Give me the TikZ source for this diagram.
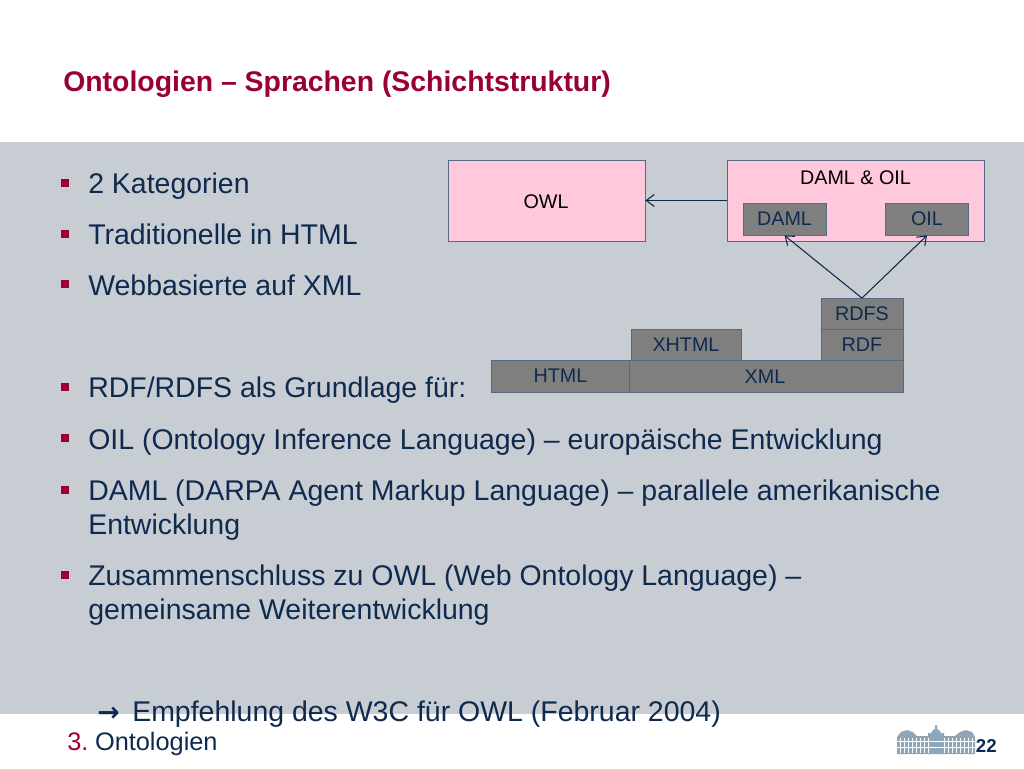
\documentclass[tikz,border=0pt]{standalone}
\usepackage{fontspec}
\setmainfont{Liberation Sans}
\newfontfamily\arrowfont{DejaVu Sans}
\usetikzlibrary{arrows.meta}
\definecolor{slidered}{HTML}{990033}
\definecolor{slidenavy}{HTML}{0F2A4F}
\definecolor{slidegrey}{HTML}{C8CDD4}
\definecolor{boxpink}{HTML}{FFC8DC}
\definecolor{boxgrey}{HTML}{7F7F7F}
\definecolor{logoblue}{HTML}{8FA5B8}
\tikzset{
  bodytext/.style={anchor=base west,inner sep=0pt,text=slidenavy,font=\fontsize{21.35pt}{25.5pt}\selectfont,align=left},
  bullet/.style={fill=slidered,draw=none,inner sep=0pt,minimum size=6pt},
  pinkbox/.style={draw=slidenavy!70,line width=.6pt,fill=boxpink,inner sep=0pt},
  greybox/.style={draw=slidenavy!70,line width=.6pt,fill=boxgrey,inner sep=0pt,text=slidenavy,font=\fontsize{14.8pt}{17pt}\selectfont},
  pinktext/.style={inner sep=0pt,text=black,font=\fontsize{14.8pt}{17pt}\selectfont},
  edge/.style={draw=slidenavy,line width=.8pt,-{Straight Barb[length=6pt,width=9pt]}}
}
\begin{document}
\begin{tikzpicture}[x=.75pt,y=-.75pt]
  \useasboundingbox (0,0) rectangle (1024,768);
  \fill[slidegrey] (0,142) rectangle (1024,714);
  % title
  \node [anchor=base west,inner sep=0pt,text=slidered,font=\fontsize{21.3pt}{24pt}\selectfont\bfseries] (title) at (63,91) {Ontologien -- Sprachen (Schichtstruktur)};
  % bullets
  \foreach \name/\ypos in {a/183,b/234,c/284,d/387,e/438,f/490,g/575}
    \node [bullet] (bullet\name) at (65,\ypos) {};
  % body text
  \node [bodytext] (kategorien) at (88,193) {2 Kategorien};
  \node [bodytext] (traditionelle) at (88,244) {Traditionelle in HTML};
  \node [bodytext] (webbasierte) at (88,295) {Webbasierte auf XML};
  \node [bodytext] (grundlage) at (88,397) {RDF/RDFS als Grundlage für:};
  \node [bodytext] (oiltext) at (88,449) {OIL (Ontology Inference Language) -- europäische Entwicklung};
  \node [bodytext] (damltext) at (88,500) {DAML (DARPA Agent Markup Language) -- parallele amerikanische};
  \node [bodytext] (damltextb) at (88,534) {Entwicklung};
  \node [bodytext] (owltext) at (88,585) {Zusammenschluss zu OWL (Web Ontology Language) --};
  \node [bodytext] (owltextb) at (88,619) {gemeinsame Weiterentwicklung};
  \node [bodytext,font=\arrowfont\bfseries\fontsize{20pt}{25pt}\selectfont] (arrowglyph) at (97,721) {→};
  \node [bodytext] (empfehlung) at (132,721) {Empfehlung des W3C für OWL (Februar 2004)};
  % upper boxes
  \node [pinkbox,minimum width=147.75pt,minimum height=60.75pt] (owl) at (546.5,200.5) {};
  \node [pinktext] (owllabel) at (546,201.5) {OWL};
  \node [pinkbox,minimum width=192.75pt,minimum height=60.75pt] (damloil) at (855.5,200.5) {};
  \node [pinktext] (damloillabel) at (855.5,177.5) {DAML \& OIL};
  \node [greybox,minimum width=62.25pt,minimum height=24pt] (daml) at (784.5,219) {DAML};
  \node [greybox,minimum width=62.25pt,minimum height=24pt] (oil) at (927,219) {OIL};
  % layers
  \node [greybox,minimum width=103.5pt,minimum height=24pt] (html) at (560.5,376) {HTML};
  \node [greybox,minimum width=205.5pt,minimum height=24pt] (xml) at (766,376) {};
  \node [inner sep=0pt,text=slidenavy,font=\fontsize{14.8pt}{17pt}\selectfont] (xmllabel) at (765,376.5) {XML};
  \node [greybox,minimum width=82.5pt,minimum height=23.25pt] (xhtml) at (686,345) {XHTML};
  \node [greybox,minimum width=61.5pt,minimum height=23.25pt] (rdf) at (862,345) {RDF};
  \node [greybox,minimum width=61.5pt,minimum height=23.25pt] (rdfs) at (862,314) {RDFS};
  % arrows
  \path[edge] (damloil.west) -- (owl.east);
  \path[edge] (rdfs.north) -- (daml.south);
  \path[edge] (rdfs.north) -- (oil.south);
  % footer
  \node [anchor=base west,inner sep=0pt,text=slidenavy,font=\fontsize{19pt}{22pt}\selectfont] (footer) at (67,750) {\textcolor{slidered}{3.}\hspace{5pt}Ontologien};
  \node [anchor=base east,inner sep=0pt,text=slidenavy,font=\fontsize{14pt}{16pt}\selectfont\bfseries] (pagenum) at (997,752) {22};
  % logo
  \fill[logoblue] (897,754) -- (897,737) -- (901,732) -- (907,730) -- (913,732) -- (917,736) -- (928,736) -- (928,733) -- (931,733) -- (933,730) -- (935,729) -- (935,725) -- (937,725) -- (937,729) -- (939,730) -- (941,733) -- (944,733) -- (944,736) -- (955,736) -- (960,732) -- (966,730) -- (972,732) -- (975,737) -- (975,754) -- cycle;
  \draw[white,line width=.3pt] (897,741) -- (975,741) (897,747) -- (975,747);
  \foreach \xpos in {900,904,908,912,916,920,924,928,944,948,952,956,960,964,968,972}
    \draw[white,line width=.3pt] (\xpos,738) -- (\xpos,753);
\end{tikzpicture}
\end{document}
